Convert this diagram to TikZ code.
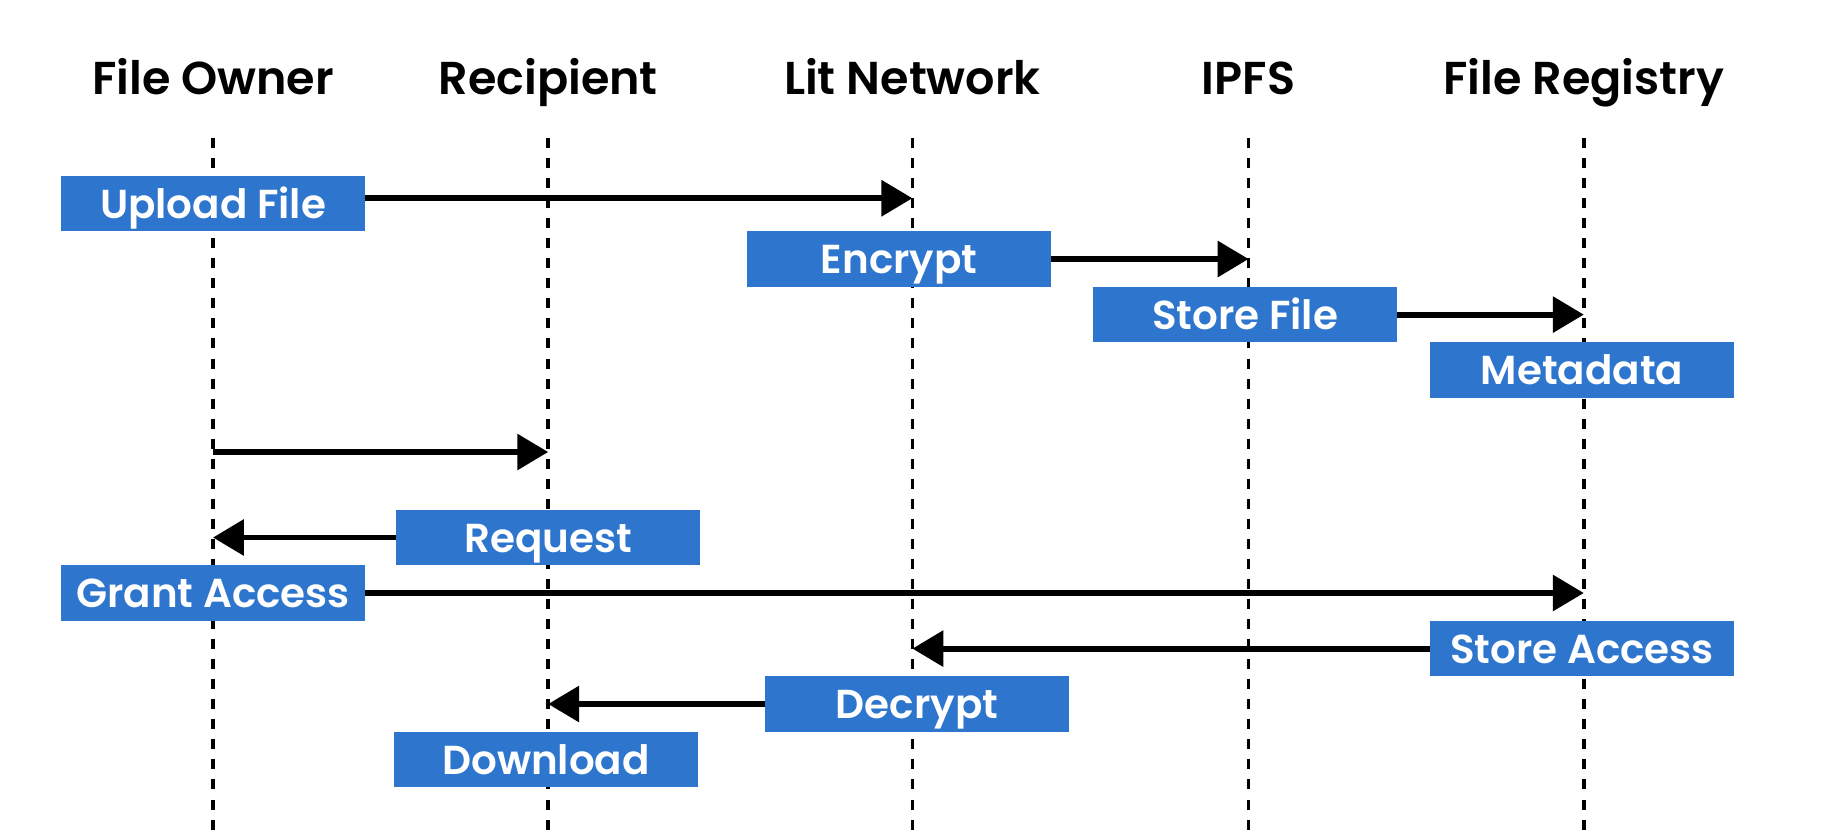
\documentclass[tikz,border=0pt]{standalone}
\usepackage{fontspec}
\IfFontExistsTF{Poppins SemiBold}
   {\setmainfont{Poppins}[BoldFont={Poppins SemiBold}]}
   {\setmainfont{Poppins}}
\usetikzlibrary{positioning,arrows.meta}
\definecolor{boxblue}{RGB}{46,117,205}

\begin{document}
\begin{tikzpicture}[x=0.01cm,y=-0.01cm,node distance=3.35cm,on grid,
   head/.style={font=\fontsize{13.1}{15}\selectfont\bfseries,text height=9.4pt,text depth=0pt,inner sep=0pt},
   box/.style={fill=boxblue,text=white,minimum width=3.03cm,minimum height=0.555cm,inner sep=0pt,
      text height=8.25pt,text depth=0pt,font=\fontsize{11.5}{14}\selectfont\bfseries},
   life/.style={line width=1pt,dash pattern=on 2.85pt off 2.85pt},
   msg/.style={line width=1.65pt,-{Triangle[length=8.8pt,width=10pt]}}]
   \useasboundingbox (0,0) rectangle (1848,832);
   % actors
   \node[head] (owner) at (213,78) {File Owner};
   \node[head] (recip) [right=of owner] {Recipient};
   \node[head] (lit)   [right=3.64cm of recip] {Lit Network};
   \node[head] (ipfs)  [right=3.36cm of lit] {IPFS};
   \node[head] (reg)   [right=of ipfs] {File Registry};
   % lifelines
   \draw[life] (owner |- 0,138) -- (owner |- 0,832);
   \draw[life] (recip |- 0,138) -- (recip |- 0,832);
   \draw[life] (lit |- 0,138) -- (lit |- 0,832);
   \draw[life] (ipfs |- 0,138) -- (ipfs |- 0,832);
   \draw[life] (reg |- 0,138) -- (reg |- 0,832);
   % steps
   \node[box] (upload)   at (213,203.5)  {Upload File};
   \node[box] (encrypt)  at (899,259)    {Encrypt};
   \node[box] (store)    at (1245,314.6) {Store File};
   \node[box] (meta)     at (1582,370)   {Metadata};
   \node[box] (request)  at (548,537.5)  {Request};
   \node[box] (grant)    at (213,593)    {Grant Access};
   \node[box] (storeacc) at (1582,648.6) {Store Access};
   \node[box] (decrypt)  at (917,704)    {Decrypt};
   \node[box] (download) at (546,759.6)  {Download};
   \coordinate (share) at (owner |- 0,452);
   % messages
   \draw[msg] ([yshift=1.5pt]upload.east) -- ([yshift=1.5pt]upload.east -| lit);
   \draw[msg] (encrypt) -- (encrypt -| ipfs);
   \draw[msg] (store) -- (store -| reg);
   \draw[msg] (share) -- (share -| recip);
   \draw[msg] (request.west) -- (request.west -| owner);
   \draw[msg] (grant.east) -- (grant.east -| reg);
   \draw[msg] (storeacc.west) -- (storeacc.west -| lit);
   \draw[msg] (decrypt.west) -- (decrypt.west -| recip);
\end{tikzpicture}
\end{document}
